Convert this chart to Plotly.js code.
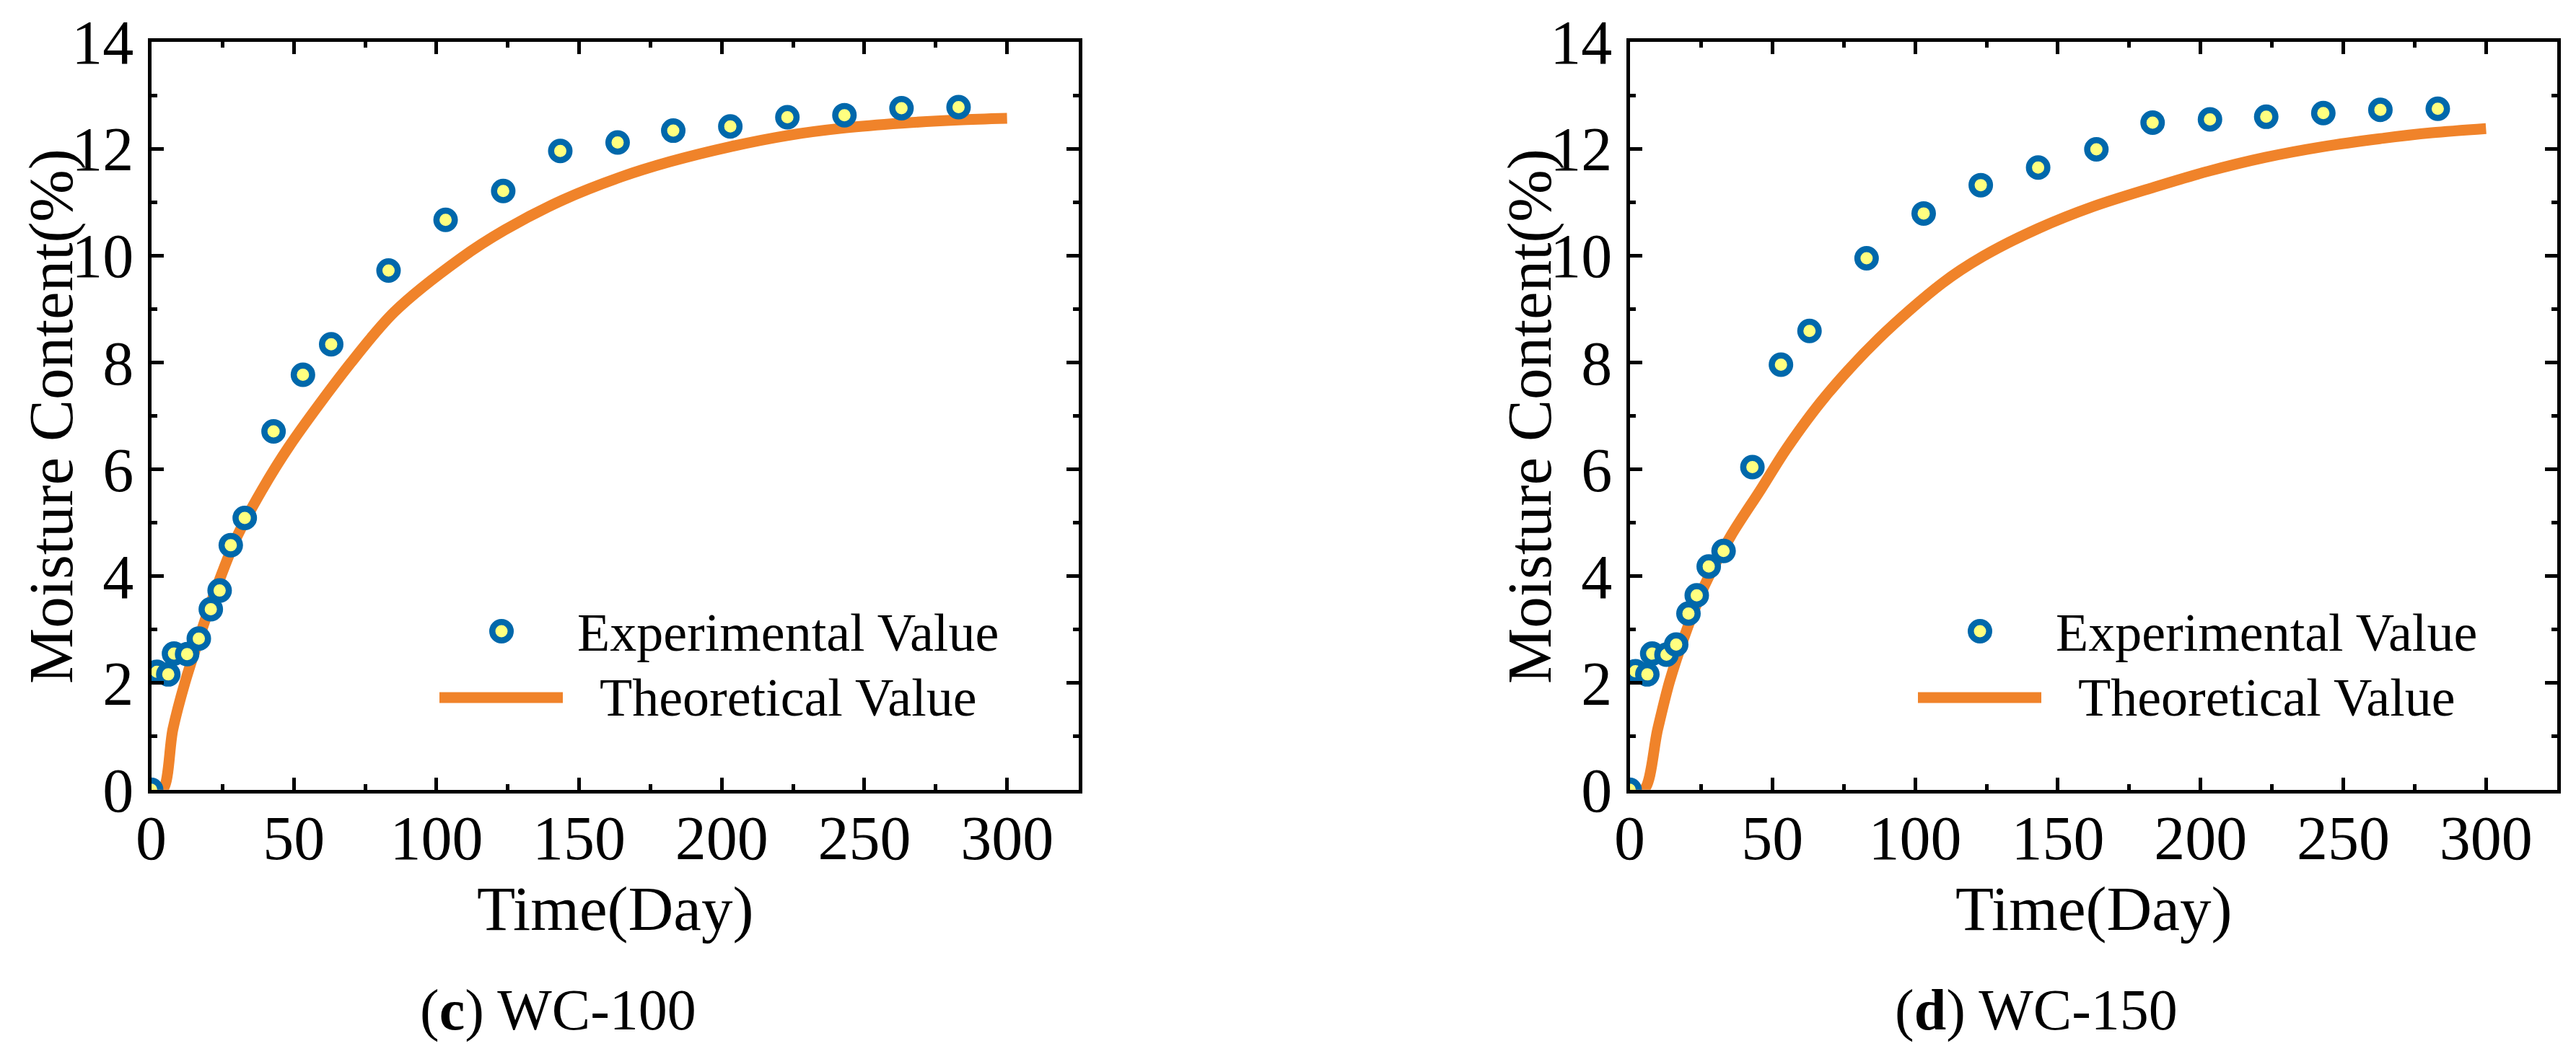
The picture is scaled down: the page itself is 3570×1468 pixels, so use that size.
<!DOCTYPE html>
<html>
<head>
<meta charset="utf-8">
<script src="https://cdn.plot.ly/plotly-3.0.1.min.js"></script>
<style>
  html, body { margin: 0; padding: 0; background: #fff; }
  #chart { width: 3570px; height: 1468px; }
</style>
</head>
<body>
<div id="chart"></div>
<script>
// (c) WC-100
var daysExpC = [0, 2, 6, 8, 12.6, 16.7, 20.9, 24, 27.9, 32.8, 42.9, 53.2, 63.1, 83.2, 103.2, 123.4, 143.4, 163.5, 183, 203, 223, 243, 263, 283];
var expC = [0, 2.21, 2.16, 2.55, 2.54, 2.83, 3.38, 3.73, 4.58, 5.09, 6.71, 7.77, 8.34, 9.72, 10.67, 11.21, 11.96, 12.12, 12.34, 12.42, 12.59, 12.63, 12.76, 12.78];
var daysTheoC = [0, 4, 7.6, 11.8, 17.3, 23.1, 29.9, 38.7, 48.5, 69.8, 85.3, 108.5, 123.9, 144.2, 164.5, 181.9, 203, 223, 243, 263, 283, 300];
var theoC = [0, 0, 1.13, 2.0, 2.92, 3.81, 4.72, 5.6, 6.44, 7.98, 8.95, 9.95, 10.48, 11.04, 11.47, 11.76, 12.04, 12.25, 12.39, 12.48, 12.54, 12.57];

// (d) WC-150
var daysExpD = [0, 2, 6.2, 7.9, 12.9, 16.3, 20.6, 23.5, 27.7, 32.9, 43, 53, 63, 83, 103, 123, 143.1, 163.5, 183.2, 203.3, 223, 243, 263, 283.1];
var expD = [0, 2.22, 2.16, 2.55, 2.53, 2.72, 3.3, 3.64, 4.18, 4.47, 6.04, 7.96, 8.59, 9.95, 10.79, 11.32, 11.65, 11.99, 12.49, 12.55, 12.6, 12.67, 12.73, 12.75];
var daysTheoD = [0, 5, 9.8, 14, 19.5, 26.2, 35.4, 45.9, 55, 68.5, 87.3, 109.4, 123.9, 143.2, 162.4, 183.6, 202.7, 222.7, 242.8, 262.8, 281, 300];
var theoD = [0, 0, 1.13, 2.03, 2.92, 3.82, 4.75, 5.62, 6.39, 7.36, 8.45, 9.48, 9.99, 10.51, 10.92, 11.28, 11.58, 11.84, 12.04, 12.19, 12.3, 12.38];

var panelCaptions = ['(<b>c</b>) WC-100', '(<b>d</b>) WC-150'];
var legendNames = ['Experimental Value', 'Theoretical Value'];
var xTitle = 'Time(Day)';
var yTitle = 'Moisture Content(%)';

var W = 3570, H = 1468;
var FONT = 'Liberation Serif';
var BLUE = '#0068ab', YELLOW = '#ffff80', ORANGE = '#f0832a';

function px(x) { return x / W; }
function py(y) { return 1 - y / H; }

function expTrace(x, y, xa, ya) {
  return {
    type: 'scatter', mode: 'markers', x: x, y: y, xaxis: xa, yaxis: ya,
    name: legendNames[0], showlegend: false,
    marker: { symbol: 'circle', size: 25.5, color: YELLOW, line: { color: BLUE, width: 8.5 } }
  };
}
function theoTrace(x, y, xa, ya) {
  return {
    type: 'scatter', mode: 'lines', x: x, y: y, xaxis: xa, yaxis: ya,
    name: legendNames[1], showlegend: false,
    line: { color: ORANGE, width: 15, shape: 'spline', smoothing: 0.9 }
  };
}

var data = [
  theoTrace(daysTheoC, theoC, 'x', 'y'),
  expTrace(daysExpC, expC, 'x', 'y'),
  theoTrace(daysTheoD, theoD, 'x2', 'y2'),
  expTrace(daysExpD, expD, 'x2', 'y2')
];

var tickFont = { family: FONT, size: 86, color: '#000' };

function xAxis(dom, anchor) {
  return {
    domain: dom, anchor: anchor, range: [0, 325], tick0: 0, dtick: 50,
    ticks: 'inside', ticklen: 17, tickwidth: 5, tickcolor: '#000',
    showline: true, linewidth: 5, linecolor: '#000', mirror: 'allticks',
    showgrid: false, zeroline: false, ticklabelstandoff: -12,
    tickfont: tickFont,
    minor: { dtick: 25, ticks: 'inside', ticklen: 8, tickwidth: 5, tickcolor: '#000', showgrid: false }
  };
}
function yAxis(anchor) {
  return {
    domain: [py(1094.8), py(58.2)], anchor: anchor, range: [0, 14], tick0: 0, dtick: 2,
    ticks: 'inside', ticklen: 17, tickwidth: 5, tickcolor: '#000',
    showline: true, linewidth: 5, linecolor: '#000', mirror: 'allticks',
    showgrid: false, zeroline: false, ticklabelstandoff: 2,
    tickfont: tickFont,
    minor: { dtick: 1, ticks: 'inside', ticklen: 8, tickwidth: 5, tickcolor: '#000', showgrid: false }
  };
}

var shift = 2049; // horizontal offset of panel (d) from panel (c)
var annotations = [], shapes = [];
[0, 1].forEach(function (i) {
  var dx = i * shift;
  var t = { family: FONT, color: '#000' };
  annotations.push(
    { text: yTitle, x: px(71 + dx), y: py(577), textangle: -90, font: Object.assign({ size: 87 }, t) },
    { text: xTitle, x: px(852 + dx), y: py(1259), font: Object.assign({ size: 87 }, t) },
    { text: panelCaptions[i], x: px(773 + dx), y: py(1400), font: Object.assign({ size: 80 }, t) },
    { text: legendNames[0], x: px(1092 + dx), y: py(877), font: Object.assign({ size: 74 }, t) },
    { text: legendNames[1], x: px(1092 + dx), y: py(967), font: Object.assign({ size: 74 }, t) }
  );
  shapes.push(
    { type: 'circle', xref: 'paper', yref: 'paper', xsizemode: 'pixel', ysizemode: 'pixel',
      xanchor: px(695 + dx), yanchor: py(875), x0: -12.75, x1: 12.75, y0: -12.75, y1: 12.75,
      fillcolor: YELLOW, line: { color: BLUE, width: 8.5 } },
    { type: 'line', xref: 'paper', yref: 'paper', x0: px(609 + dx), x1: px(780 + dx),
      y0: py(967), y1: py(967), line: { color: ORANGE, width: 15 } }
  );
});
annotations.forEach(function (a) {
  a.xref = 'paper'; a.yref = 'paper'; a.showarrow = false;
  a.xanchor = 'center'; a.yanchor = 'middle';
});

var layout = {
  width: W, height: H,
  margin: { t: 0, r: 0, b: 0, l: 0 },
  font: { family: FONT, color: '#000' },
  paper_bgcolor: '#fff', plot_bgcolor: '#fff',
  showlegend: false,
  xaxis: xAxis([px(209.5), px(1494.5)], 'y'),
  yaxis: yAxis('x'),
  xaxis2: xAxis([px(2258.5), px(3544.2)], 'y2'),
  yaxis2: yAxis('x2'),
  annotations: annotations,
  shapes: shapes
};

Plotly.newPlot('chart', data, layout, { displayModeBar: false, responsive: false, staticPlot: true });
</script>
</body>
</html>
